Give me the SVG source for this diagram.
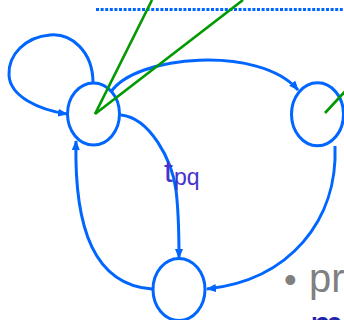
<svg xmlns="http://www.w3.org/2000/svg" width="344" height="320" viewBox="0 0 344 320">
<style>
.node{fill:none;stroke:#0066ff;stroke-width:3}
.edge{fill:none;stroke:#0066ff;stroke-width:3}
.green{fill:none;stroke:#009900;stroke-width:2.6}
.lbl{font-family:"Liberation Sans",Arial,sans-serif;fill:#4433cc}
.bul{font-family:"Liberation Sans",Arial,sans-serif;font-size:40px}
</style>
<defs>
<marker id="arr" markerUnits="userSpaceOnUse" markerWidth="10" markerHeight="8" refX="9" refY="4" orient="auto">
<path d="M0,0 L10,4 L0,8 z" fill="#0066ff"/>
</marker>
</defs>
<line x1="96" y1="9.5" x2="344" y2="9.5" stroke="#0066ff" stroke-width="3" stroke-dasharray="3,1.6"/>
<g id="connectors">
<path class="edge" d="M93,83 C93,50 70,33 50,35 C25,37 8,55 9,75 C10,97 40,110 67,114" marker-end="url(#arr)"/>
<path class="edge" d="M111,92 C135,55 260,45 298,90" marker-end="url(#arr)"/>
<path class="edge" d="M121,115 C150,118 172,160 176,190 C179,215 179,240 179,258" marker-end="url(#arr)"/>
<path class="edge" d="M152,289 C95,285 74,230 76,141" marker-end="url(#arr)"/>
<path class="edge" d="M335,146 C338,220 290,280 207,289" marker-end="url(#arr)"/>
</g>
<g id="nodeA"><ellipse class="node" cx="93.5" cy="114" rx="26" ry="31"/></g>
<g id="nodeB"><ellipse class="node" cx="317.5" cy="114.3" rx="26" ry="31.5"/></g>
<g id="nodeC"><ellipse class="node" cx="179" cy="289.5" rx="26" ry="31"/></g>
<g id="green">
<line class="green" x1="95" y1="114" x2="152" y2="0"/>
<line class="green" x1="95" y1="114" x2="243" y2="0"/>
<line class="green" x1="325" y1="113" x2="350" y2="86"/>
</g>
<text class="lbl" x="164" y="182"><tspan font-size="32">t</tspan><tspan font-size="23" x="174" y="185">pq</tspan></text>
<text class="bul" y="292" fill="#808080"><tspan x="284" font-size="36">•</tspan><tspan x="309">pr</tspan></text>
<text class="bul" y="340" fill="#2222aa"><tspan x="284" font-size="36" y="337">•</tspan><tspan x="310" y="339">m</tspan></text>
</svg>
